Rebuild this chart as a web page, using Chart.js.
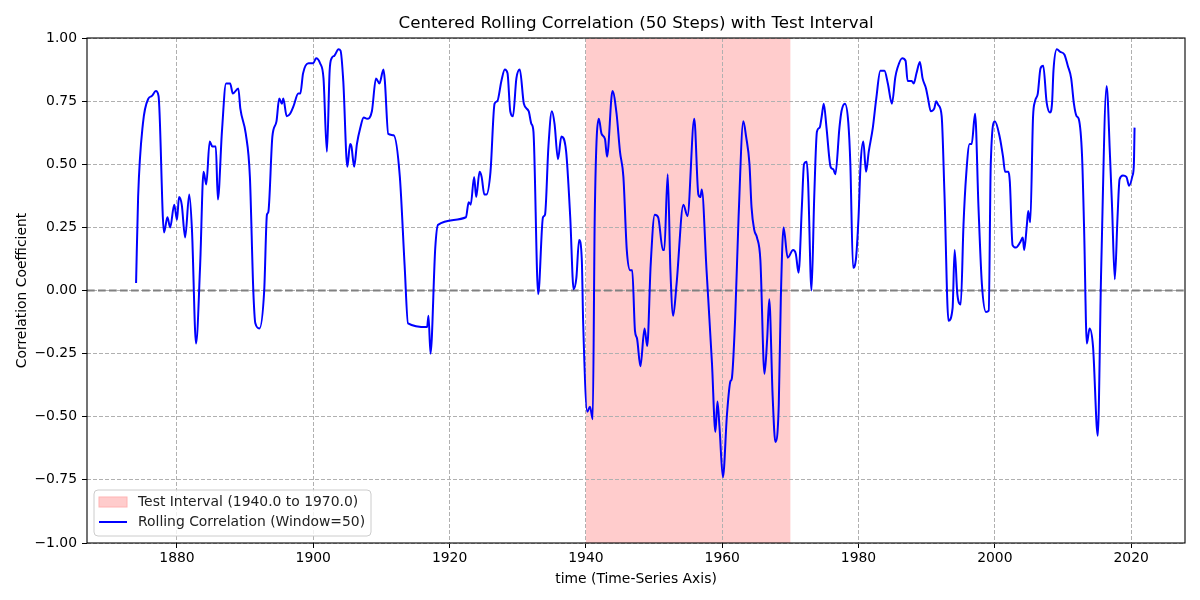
<!DOCTYPE html>
<html>
<head>
<meta charset="utf-8">
<title>Centered Rolling Correlation</title>
<script src="https://cdn.jsdelivr.net/npm/chart.js@4.4.1/dist/chart.umd.min.js"></script>
<style>
    html, body { margin: 0; padding: 0; background: #fff; }
    #wrap { width: 1200px; height: 600px; }
</style>
</head>
<body>
<div id="wrap"><canvas id="myChart"></canvas></div>
<script>
// data
const years = [
    1874.0, 1874.3, 1875.0, 1875.8, 1876.3, 1876.9, 1877.3, 1878.1, 1878.6, 1879.0,
    1879.6, 1880.0, 1880.3, 1880.7, 1881.2, 1881.8, 1882.2, 1882.8, 1883.4, 1883.9,
    1884.3, 1884.8, 1885.2, 1885.7, 1886.0, 1886.6, 1887.2, 1887.8, 1888.2, 1889.0,
    1889.3, 1890.1, 1890.7, 1891.2, 1891.5, 1892.1, 1892.8, 1893.2, 1893.4, 1894.0,
    1894.6, 1895.0, 1895.4, 1895.6, 1896.1, 1896.6, 1897.1, 1897.8, 1898.1, 1898.5,
    1899.3, 1899.8, 1900.0, 1900.4, 1901.0, 1901.5, 1902.0, 1902.4, 1902.7, 1903.1,
    1903.7, 1904.0, 1904.4, 1905.0, 1905.4, 1905.6, 1906.0, 1906.4, 1906.9, 1907.4,
    1907.9, 1908.6, 1909.2, 1909.7, 1910.3, 1910.5, 1911.0, 1911.8, 1912.7, 1913.4,
    1913.9, 1916.7, 1916.9, 1917.2, 1917.9, 1918.3, 1922.4, 1922.8, 1923.1, 1923.6,
    1923.9, 1924.4, 1924.7, 1925.1, 1925.4, 1926.0, 1926.6, 1927.0, 1927.6, 1928.1,
    1928.5, 1928.9, 1929.3, 1929.8, 1930.3, 1930.9, 1931.6, 1932.0, 1932.3, 1933.0,
    1933.7, 1934.0, 1934.5, 1935.0, 1935.4, 1935.9, 1936.4, 1937.1, 1937.7, 1938.2,
    1938.6, 1939.0, 1939.4, 1939.6, 1940.2, 1940.6, 1941.0, 1941.3, 1941.9, 1942.3,
    1942.8, 1943.1, 1943.9, 1944.5, 1945.0, 1945.5, 1946.0, 1946.5, 1946.8, 1947.2,
    1947.5, 1948.0, 1948.6, 1949.0, 1949.5, 1950.1, 1950.6, 1951.3, 1951.5, 1952.0,
    1952.4, 1952.8, 1953.3, 1954.3, 1954.9, 1955.9, 1956.5, 1956.8, 1957.0, 1957.7,
    1958.5, 1959.0, 1959.3, 1959.6, 1960.1, 1960.7, 1961.2, 1961.4, 1961.9, 1962.4,
    1963.1, 1963.5, 1964.0, 1964.3, 1964.7, 1965.1, 1965.6, 1966.2, 1966.6, 1966.9,
    1967.4, 1967.8, 1968.3, 1968.6, 1969.0, 1969.6, 1970.4, 1970.8, 1971.2, 1971.7,
    1972.0, 1972.4, 1972.6, 1973.1, 1973.5, 1973.9, 1974.3, 1974.6, 1974.9, 1975.3,
    1975.9, 1976.3, 1976.6, 1977.2, 1977.5, 1978.0, 1978.5, 1978.8, 1979.2, 1979.6,
    1980.0, 1980.3, 1980.7, 1981.1, 1981.5, 1982.1, 1982.6, 1983.2, 1983.8, 1984.3,
    1984.9, 1985.4, 1985.7, 1986.4, 1986.9, 1987.2, 1987.8, 1988.1, 1988.5, 1989.0,
    1989.4, 1989.9, 1990.2, 1990.6, 1991.1, 1991.4, 1991.7, 1992.2, 1992.6, 1993.2,
    1993.8, 1994.1, 1994.5, 1995.0, 1995.4, 1995.8, 1996.3, 1996.6, 1997.1, 1997.6,
    1998.1, 1998.7, 1999.1, 1999.4, 2000.0, 2000.7, 2001.2, 2001.5, 2002.0, 2002.2,
    2002.6, 2003.1, 2003.7, 2004.1, 2004.3, 2004.7, 2004.9, 2005.2, 2005.6, 2005.9,
    2006.3, 2006.7, 2007.1, 2007.6, 2008.1, 2008.4, 2008.6, 2009.1, 2009.6, 2010.2,
    2010.7, 2011.2, 2011.6, 2012.0, 2012.3, 2012.8, 2013.1, 2013.5, 2013.9, 2014.4,
    2015.1, 2015.6, 2016.4, 2016.9, 2017.2, 2017.6, 2018.0, 2018.3, 2018.8, 2019.3,
    2019.7, 2020.2, 2020.4, 2020.5
];
const corr = [
    0.03, 0.37, 0.66, 0.76, 0.77, 0.79, 0.77, 0.23, 0.29, 0.25,
    0.34, 0.28, 0.37, 0.34, 0.21, 0.38, 0.24, -0.21, 0.10, 0.47,
    0.42, 0.59, 0.57, 0.57, 0.36, 0.63, 0.82, 0.82, 0.78, 0.80,
    0.72, 0.62, 0.45, 0.00, -0.13, -0.15, 0.00, 0.30, 0.31, 0.61,
    0.67, 0.76, 0.74, 0.76, 0.69, 0.70, 0.73, 0.78, 0.78, 0.86,
    0.90, 0.90, 0.90, 0.92, 0.90, 0.84, 0.55, 0.87, 0.92, 0.93,
    0.955, 0.95, 0.83, 0.49, 0.58, 0.57, 0.49, 0.58, 0.645, 0.685,
    0.68, 0.71, 0.84, 0.82, 0.875, 0.83, 0.62, 0.615, 0.45, 0.10,
    -0.13, -0.145, -0.10, -0.25, 0.17, 0.26, 0.29, 0.35, 0.34, 0.45,
    0.37, 0.47, 0.45, 0.38, 0.38, 0.47, 0.74, 0.75, 0.83, 0.875,
    0.86, 0.71, 0.69, 0.84, 0.875, 0.74, 0.71, 0.66, 0.63, -0.015,
    0.29, 0.30, 0.57, 0.71, 0.66, 0.52, 0.61, 0.55, 0.29, 0.005,
    0.05, 0.20, 0.12, -0.13, -0.48, -0.46, -0.51, 0.30, 0.68, 0.62,
    0.60, 0.53, 0.79, 0.70, 0.55, 0.45, 0.16, 0.08, 0.08, -0.16,
    -0.19, -0.30, -0.15, -0.22, 0.10, 0.30, 0.29, 0.16, 0.16, 0.46,
    0.08, -0.10, 0.025, 0.34, 0.295, 0.68, 0.38, 0.37, 0.40, 0.08,
    -0.29, -0.56, -0.44, -0.54, -0.74, -0.49, -0.36, -0.35, -0.11, 0.29,
    0.67, 0.61, 0.50, 0.33, 0.24, 0.21, 0.12, -0.33, -0.19, -0.035,
    -0.42, -0.60, -0.45, -0.03, 0.25, 0.13, 0.16, 0.145, 0.07, 0.34,
    0.50, 0.51, 0.43, 0.00, 0.37, 0.63, 0.645, 0.69, 0.74, 0.645,
    0.49, 0.48, 0.46, 0.645, 0.71, 0.74, 0.665, 0.50, 0.09, 0.12,
    0.29, 0.50, 0.59, 0.47, 0.55, 0.645, 0.76, 0.87, 0.87, 0.82,
    0.74, 0.845, 0.88, 0.92, 0.91, 0.83, 0.83, 0.82, 0.86, 0.905,
    0.84, 0.80, 0.76, 0.71, 0.72, 0.75, 0.735, 0.69, 0.39, -0.12,
    -0.07, 0.16, -0.015, -0.055, 0.26, 0.46, 0.58, 0.58, 0.70, 0.33,
    0.025, -0.085, -0.08, 0.50, 0.67, 0.61, 0.53, 0.47, 0.47, 0.43,
    0.18, 0.17, 0.19, 0.21, 0.16, 0.26, 0.315, 0.27, 0.685, 0.75,
    0.78, 0.88, 0.89, 0.745, 0.705, 0.745, 0.87, 0.955, 0.945, 0.935,
    0.89, 0.84, 0.74, 0.69, 0.68, 0.53, 0.24, -0.21, -0.15, -0.22,
    -0.575, 0.08, 0.81, 0.53, 0.33, 0.045, 0.29, 0.44, 0.455, 0.45,
    0.415, 0.455, 0.50, 0.645
];
const xTicks = [1880, 1900, 1920, 1940, 1960, 1980, 2000, 2020];
const yTicks = [-1.0, -0.75, -0.5, -0.25, 0.0, 0.25, 0.5, 0.75, 1.0];
const testStart = 1940.0;
const testEnd = 1970.0;

const FONT = 'DejaVu Sans';
const TITLE = 'Centered Rolling Correlation (50 Steps) with Test Interval';

const points = [];
for (var i in years) {
    points.push({ x: years[i], y: corr[i] });
}

// red test span + dashed zero line + frame + legend box + title over the axes
const extras = {
    id: 'extras',
    beforeDraw(chart) {
        const ctx = chart.ctx;
        const a = chart.chartArea;
        const x = chart.scales.x;
        const x0 = x.getPixelForValue(testStart);
        const x1 = x.getPixelForValue(testEnd);
        ctx.save();
        ctx.fillStyle = '#ffcccc';
        ctx.fillRect(x0, a.top, x1 - x0, a.bottom - a.top);
        ctx.restore();
    },
    beforeDatasetsDraw(chart) {
        const ctx = chart.ctx;
        const a = chart.chartArea;
        const y0 = chart.scales.y.getPixelForValue(0);
        ctx.save();
        ctx.strokeStyle = '#808080';
        ctx.lineWidth = 2;
        ctx.setLineDash([7.7, 3.3]);
        ctx.beginPath();
        ctx.moveTo(a.left, y0);
        ctx.lineTo(a.right, y0);
        ctx.stroke();
        ctx.restore();
    },
    afterDraw(chart) {
        const ctx = chart.ctx;
        const a = chart.chartArea;
        ctx.save();
        ctx.strokeStyle = '#000';
        ctx.lineWidth = 1.1;
        ctx.strokeRect(a.left, a.top, a.right - a.left, a.bottom - a.top);

        // title, centred on the axes like matplotlib
        ctx.fillStyle = '#000';
        ctx.font = '16.7px "' + FONT + '"';
        ctx.textAlign = 'center';
        ctx.textBaseline = 'middle';
        ctx.fillText(TITLE, (a.left + a.right) / 2, 24);

        // legend
        const lx = a.left + 7, ly = a.bottom - 53, lw = 277, lh = 46;
        ctx.beginPath();
        ctx.roundRect(lx, ly, lw, lh, 4);
        ctx.fillStyle = 'rgba(255,255,255,0.8)';
        ctx.fill();
        ctx.strokeStyle = '#cccccc';
        ctx.lineWidth = 1;
        ctx.stroke();

        ctx.fillStyle = '#ffcccc';
        ctx.fillRect(lx + 5, ly + 7, 28, 10);
        ctx.strokeStyle = '#ffb3b3';
        ctx.strokeRect(lx + 5, ly + 7, 28, 10);

        ctx.strokeStyle = '#0000ff';
        ctx.lineWidth = 2;
        ctx.beginPath();
        ctx.moveTo(lx + 5, ly + 32);
        ctx.lineTo(lx + 33, ly + 32);
        ctx.stroke();

        ctx.fillStyle = '#222';
        ctx.font = '13.9px "' + FONT + '"';
        ctx.textBaseline = 'middle';
        ctx.textAlign = 'left';
        ctx.fillText('Test Interval (1940.0 to 1970.0)', lx + 44, ly + 12);
        ctx.fillText('Rolling Correlation (Window=50)', lx + 44, ly + 32);
        ctx.restore();
    }
};

const config = {
    type: 'line',
    data: {
        datasets: [{
            label: 'Rolling Correlation (Window=50)',
            data: points,
            borderColor: '#0000ff',
            backgroundColor: '#0000ff',
            borderWidth: 2,
            pointRadius: 0,
            fill: false,
            cubicInterpolationMode: 'monotone'
        }]
    },
    options: {
        responsive: false,
        animation: false,
        devicePixelRatio: 1,
        layout: { padding: { left: 0, right: 15, top: 38, bottom: 0 } },
        plugins: {
            legend: { display: false },
            tooltip: { enabled: false },
            title: { display: false }
        },
        scales: {
            x: {
                type: 'linear',
                min: 1866.8,
                max: 2027.9,
                afterBuildTicks: function (scale) {
                    scale.ticks = xTicks.map(v => ({ value: v }));
                },
                afterFit: function (scale) { scale.height = 57; },
                grid: {
                    color: '#b0b0b0',
                    lineWidth: 1,
                    tickColor: '#000',
                    tickLength: 5,
                    tickWidth: 1,
                    tickBorderDash: []
                },
                border: { display: false, dash: [4, 2] },
                ticks: {
                    color: '#000',
                    padding: 2,
                    maxRotation: 0,
                    font: { family: FONT, size: 13.9 },
                    callback: v => String(v)
                },
                title: {
                    display: true,
                    text: 'time (Time-Series Axis)',
                    color: '#000',
                    font: { family: FONT, size: 13.9 },
                    padding: { top: 12, bottom: 12 }
                }
            },
            y: {
                type: 'linear',
                min: -1,
                max: 1,
                afterBuildTicks: function (scale) {
                    scale.ticks = yTicks.map(v => ({ value: v }));
                },
                afterFit: function (scale) { scale.width = 87; },
                grid: {
                    color: '#b0b0b0',
                    lineWidth: 1,
                    tickColor: '#000',
                    tickLength: 5,
                    tickWidth: 1,
                    tickBorderDash: []
                },
                border: { display: false, dash: [4, 2] },
                ticks: {
                    color: '#000',
                    padding: 5,
                    font: { family: FONT, size: 13.9 },
                    callback: v => (v < 0 ? '\u2212' : '') + Math.abs(v).toFixed(2)
                },
                title: {
                    display: true,
                    text: 'Correlation Coefficient',
                    color: '#000',
                    font: { family: FONT, size: 13.9 },
                    padding: { top: 14, bottom: 12 }
                }
            }
        }
    },
    plugins: [extras]
};

const canvas = document.getElementById('myChart');
canvas.width = 1200;
canvas.height = 600;
var myChart = new Chart(canvas, config);
</script>
</body>
</html>
